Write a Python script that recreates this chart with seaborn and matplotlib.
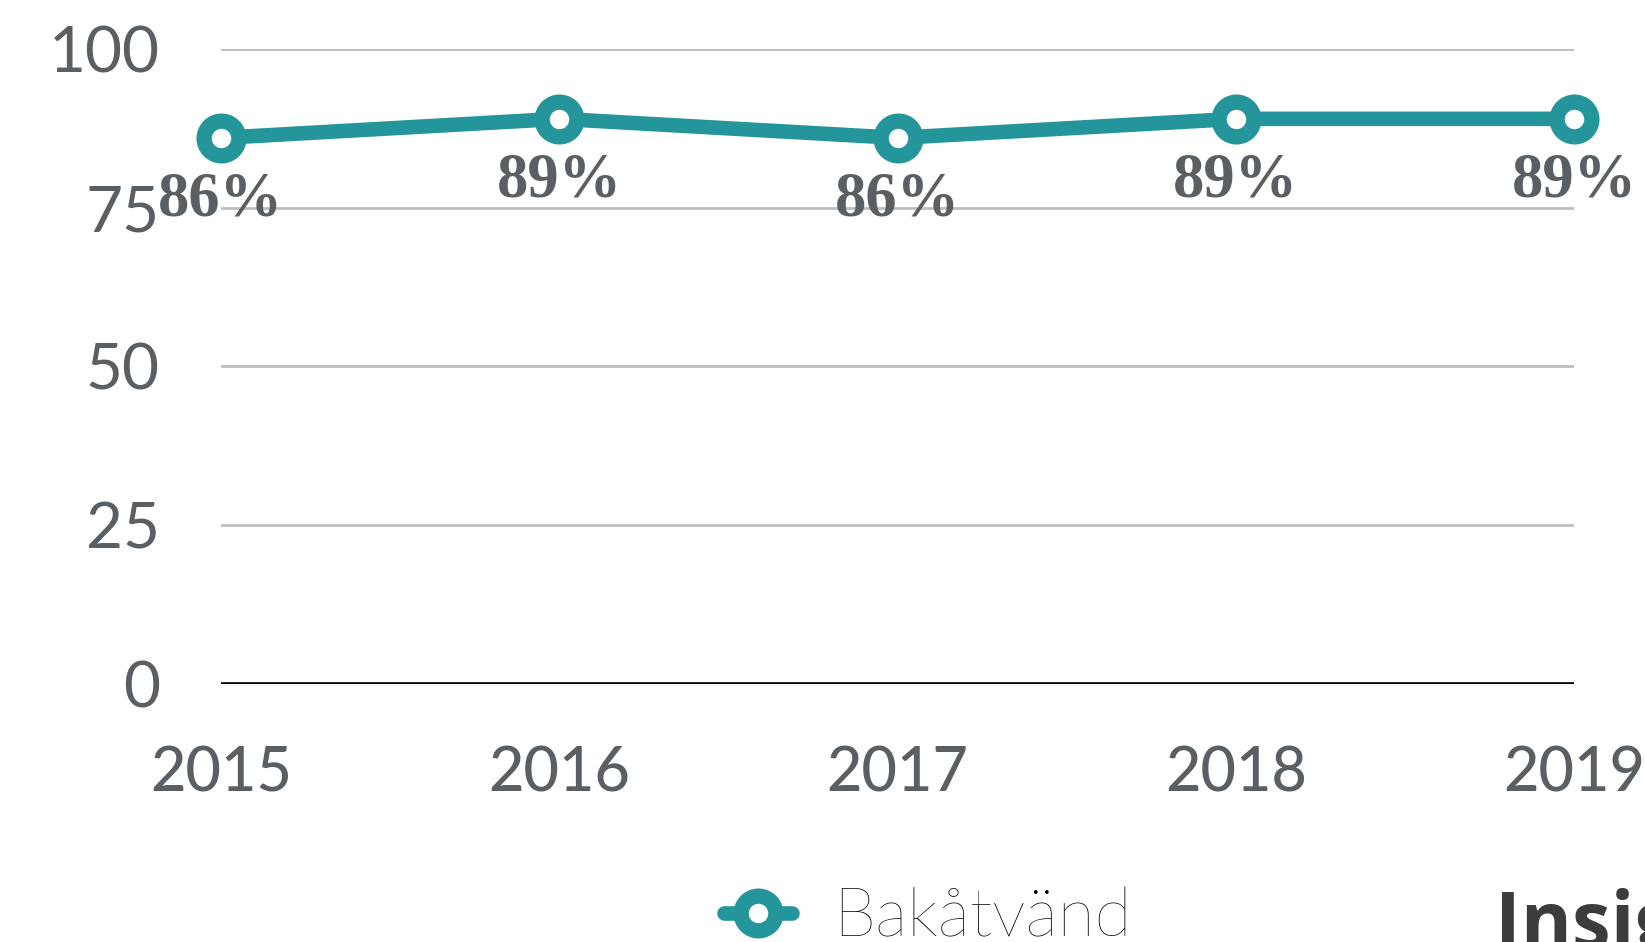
import matplotlib
matplotlib.use("Agg")
import matplotlib.pyplot as plt
import pandas as pd
import seaborn as sns

years = [2015, 2016, 2017, 2018, 2019]
values = [86, 89, 86, 89, 89]
labels = ["86%", "89%", "86%", "89%", "89%"]
series_name = "Bakåtvänd"
y_ticks = [0, 25, 50, 75, 100]

TEAL = "#23959b"
GREY_TXT = "#5a5f63"

sns.set_theme(style="white")
plt.rcParams["font.family"] = ["Lato", "DejaVu Sans"]

df = pd.DataFrame({"year": years, "value": values, "serie": series_name})

fig = plt.figure(figsize=(16.45, 9.42), dpi=100)
ax = fig.add_axes([0.1343, 0.2739, 0.957 - 0.1343, 0.948 - 0.2739])

# grid lines
for t in y_ticks:
    if t == 0:
        ax.axhline(t, color="black", lw=2.6, zorder=1)
    else:
        ax.axhline(t, color="#bdbdbd", lw=2.0, zorder=1)

sns.lineplot(data=df, x="year", y="value", hue="serie", palette=[TEAL],
             marker="o", markersize=25, markerfacecolor="white",
             markeredgecolor=TEAL, markeredgewidth=11, linewidth=10.5,
             ax=ax, legend=False, clip_on=False, zorder=3)

for x, y, lab in zip(years, values, labels):
    ax.annotate(lab, (x, y), xytext=(0, -45), textcoords="offset points",
                ha="center", va="center", fontsize=45, fontweight="bold",
                family=["Liberation Serif", "DejaVu Serif"], color=GREY_TXT,
                zorder=4, annotation_clip=False)

ax.set_xlim(years[0], years[-1])
ax.set_ylim(0, 100)
ax.set_xticks(years)
ax.set_xticklabels([str(y) for y in years])
ax.set_yticks(y_ticks)
ax.set_yticklabels([str(t) for t in y_ticks])
ax.set_xlabel("")
ax.set_ylabel("")
for s in ax.spines.values():
    s.set_visible(False)
ax.tick_params(axis="y", length=0, pad=44, labelsize=46, labelcolor=GREY_TXT)
ax.tick_params(axis="x", length=0, pad=44, labelsize=44, labelcolor=GREY_TXT)
for t in ax.get_yticklabels():
    t.set_fontweight("normal")
for t in ax.get_xticklabels():
    t.set_fontweight("medium")

# legend
handle = plt.Line2D([], [], color=TEAL, lw=10.5, marker="o", markersize=25,
                    markerfacecolor="white", markeredgecolor=TEAL,
                    markeredgewidth=11)
fig.legend([handle], [series_name], loc="center left",
           bbox_to_anchor=(724 / 1645, 1 - 918 / 942), frameon=False,
           borderpad=0, borderaxespad=0, handlelength=1.0, handletextpad=0.6,
           prop={"size": 49, "weight": "light"}, labelcolor="black")

fig.text(1495 / 1645, 1 - 888 / 942, "Insight", ha="left", va="top",
         fontsize=56, fontweight="bold", color="#3c3c3c",
         family=["Open Sans", "DejaVu Sans"])

fig.savefig("out.png", dpi=100)
